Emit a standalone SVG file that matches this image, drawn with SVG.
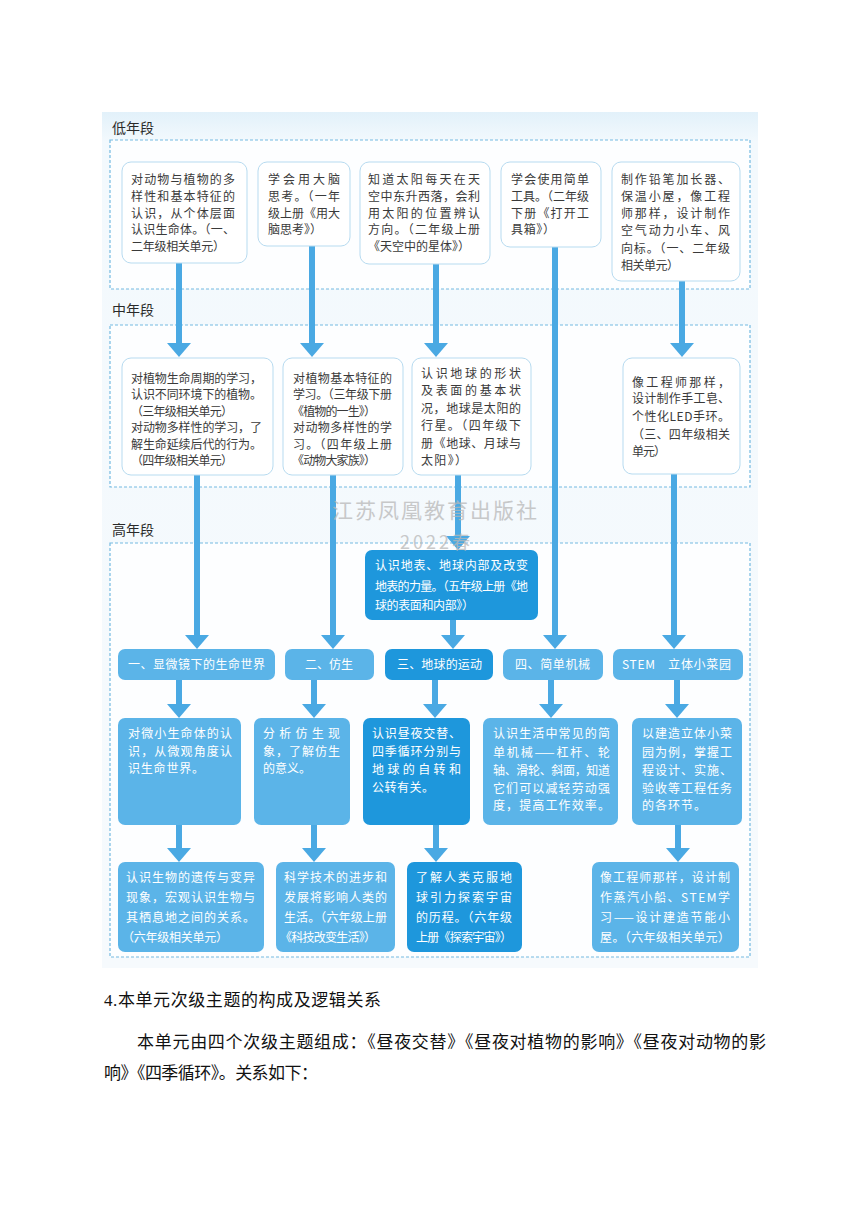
<svg xmlns="http://www.w3.org/2000/svg" width="860" height="1216" viewBox="0 0 860 1216">
<defs>
<linearGradient id="bg" x1="0" y1="0" x2="0" y2="1">
<stop offset="0" stop-color="#e2f1fa"/>
<stop offset="0.035" stop-color="#f3f9fd"/>
<stop offset="1" stop-color="#f6fafd"/>
</linearGradient>
<marker id="ah" markerUnits="userSpaceOnUse" markerWidth="14" markerHeight="24" viewBox="0 0 14 24" refX="0" refY="12" orient="auto"><path d="M0,0 L14,12 L0,24 z" fill="#4aa9e3"/></marker>
</defs>
<style>
.sec{fill:#fdfeff;stroke:#74b9e2;stroke-width:1.2;stroke-dasharray:3 2}
.lab{font-family:"Noto Sans CJK SC",sans-serif;font-size:14px;fill:#2a2a2a}
.wb{fill:#ffffff;stroke:#b7dbf0;stroke-width:1}
.mb{fill:#5bb4e8}
.db{fill:#1e97dc}
.t{font-family:"Noto Sans CJK SC",sans-serif;font-size:12px;fill:#3a3a3a}
.tw{font-family:"Noto Sans CJK SC",sans-serif;font-size:12px;fill:#ffffff}
.hd{font-family:"Noto Sans CJK SC",sans-serif;font-size:12px;fill:#ffffff}
.c{stroke:#4aa9e3;stroke-width:6;fill:none}
.wm{font-family:"Noto Sans CJK SC",sans-serif;fill:#b8b8b8;opacity:0.75}
.body{font-family:"Liberation Serif","Noto Sans CJK SC",serif;font-size:17px;fill:#111}
</style>

<rect x="102" y="112" width="656" height="856" fill="url(#bg)"/>

<g id="sections">
<rect class="sec" x="110" y="140" width="640" height="149"/>
<rect class="sec" x="110" y="325" width="640" height="162"/>
<rect class="sec" x="110" y="543" width="640" height="414"/>
<text class="lab" x="112" y="133">低年段</text>
<text class="lab" x="112" y="315">中年段</text>
<text class="lab" x="112" y="535">高年段</text>
</g>

<g id="connectors">
<line class="c" x1="179" y1="263" x2="179" y2="343" marker-end="url(#ah)"/>
<line class="c" x1="312" y1="246" x2="312" y2="343" marker-end="url(#ah)"/>
<line class="c" x1="436" y1="264" x2="436" y2="343" marker-end="url(#ah)"/>
<line class="c" x1="682" y1="281" x2="682" y2="343" marker-end="url(#ah)"/>
<line class="c" x1="555" y1="247" x2="555" y2="635" marker-end="url(#ah)"/>
<line class="c" x1="197" y1="475" x2="197" y2="635" marker-end="url(#ah)"/>
<line class="c" x1="333" y1="475" x2="333" y2="635" marker-end="url(#ah)"/>
<line class="c" x1="458" y1="475" x2="458" y2="536" marker-end="url(#ah)"/>
<line class="c" x1="674" y1="474" x2="674" y2="635" marker-end="url(#ah)"/>
<line class="c" x1="453" y1="620" x2="453" y2="635" marker-end="url(#ah)"/>
<line class="c" x1="179" y1="680" x2="179" y2="704" marker-end="url(#ah)"/>
<line class="c" x1="314" y1="680" x2="314" y2="704" marker-end="url(#ah)"/>
<line class="c" x1="435" y1="680" x2="435" y2="704" marker-end="url(#ah)"/>
<line class="c" x1="551" y1="680" x2="551" y2="704" marker-end="url(#ah)"/>
<line class="c" x1="677" y1="680" x2="677" y2="704" marker-end="url(#ah)"/>
<line class="c" x1="179" y1="825" x2="179" y2="848" marker-end="url(#ah)"/>
<line class="c" x1="314" y1="825" x2="314" y2="848" marker-end="url(#ah)"/>
<line class="c" x1="436" y1="825" x2="436" y2="848" marker-end="url(#ah)"/>
<line class="c" x1="678" y1="825" x2="678" y2="848" marker-end="url(#ah)"/>
</g>

<g id="low1">
<rect class="wb" x="122" y="162" width="125" height="101" rx="9"/>
<text class="t" x="131" y="184" textLength="104" lengthAdjust="spacing">对动物与植物的多</text>
<text class="t" x="131" y="201" textLength="104" lengthAdjust="spacing">样性和基本特征的</text>
<text class="t" x="131" y="218" textLength="104" lengthAdjust="spacing">认识，从个体层面</text>
<text class="t" x="131" y="234" textLength="104" lengthAdjust="spacing">认识生命体。（一、</text>
<text class="t" x="131" y="251" textLength="94" lengthAdjust="spacing">二年级相关单元）</text>
</g>
<g id="low2">
<rect class="wb" x="258" y="162" width="92" height="84" rx="9"/>
<text class="t" x="268" y="184" textLength="72" lengthAdjust="spacing">学会用大脑</text>
<text class="t" x="268" y="201" textLength="72" lengthAdjust="spacing">思考。（一年</text>
<text class="t" x="268" y="218" textLength="72" lengthAdjust="spacing">级上册《用大</text>
<text class="t" x="268" y="234" textLength="54" lengthAdjust="spacing">脑思考》）</text>
</g>
<g id="low3">
<rect class="wb" x="360" y="162" width="130" height="102" rx="9"/>
<text class="t" x="368" y="184" textLength="112" lengthAdjust="spacing">知道太阳每天在天</text>
<text class="t" x="368" y="201" textLength="112" lengthAdjust="spacing">空中东升西落，会利</text>
<text class="t" x="368" y="218" textLength="112" lengthAdjust="spacing">用太阳的位置辨认</text>
<text class="t" x="368" y="234" textLength="112" lengthAdjust="spacing">方向。（二年级上册</text>
<text class="t" x="368" y="251" textLength="102" lengthAdjust="spacing">《天空中的星体》）</text>
</g>
<g id="low4">
<rect class="wb" x="501" y="162" width="100" height="85" rx="9"/>
<text class="t" x="511" y="184" textLength="78" lengthAdjust="spacing">学会使用简单</text>
<text class="t" x="511" y="201" textLength="78" lengthAdjust="spacing">工具。（二年级</text>
<text class="t" x="511" y="218" textLength="78" lengthAdjust="spacing">下册《打开工</text>
<text class="t" x="511" y="234" textLength="44" lengthAdjust="spacing">具箱》）</text>
</g>
<g id="low5">
<rect class="wb" x="612" y="162" width="128" height="119" rx="9"/>
<text class="t" x="621" y="184" textLength="109" lengthAdjust="spacing">制作铅笔加长器、</text>
<text class="t" x="621" y="201" textLength="109" lengthAdjust="spacing">保温小屋，像工程</text>
<text class="t" x="621" y="218" textLength="109" lengthAdjust="spacing">师那样，设计制作</text>
<text class="t" x="621" y="235" textLength="109" lengthAdjust="spacing">空气动力小车、风</text>
<text class="t" x="621" y="253" textLength="109" lengthAdjust="spacing">向标。（一、二年级</text>
<text class="t" x="621" y="270" textLength="58" lengthAdjust="spacing">相关单元）</text>
</g>

<g id="mid1">
<rect class="wb" x="122" y="358" width="151" height="117" rx="9"/>
<text class="t" x="131" y="382.5" textLength="131" lengthAdjust="spacing">对植物生命周期的学习，</text>
<text class="t" x="131" y="399" textLength="131" lengthAdjust="spacing">认识不同环境下的植物。</text>
<text class="t" x="131" y="415.5" textLength="102" lengthAdjust="spacing">（三年级相关单元）</text>
<text class="t" x="131" y="432" textLength="131" lengthAdjust="spacing">对动物多样性的学习，了</text>
<text class="t" x="131" y="448.5" textLength="131" lengthAdjust="spacing">解生命延续后代的行为。</text>
<text class="t" x="131" y="465" textLength="102" lengthAdjust="spacing">（四年级相关单元）</text>
</g>
<g id="mid2">
<rect class="wb" x="283" y="358" width="120" height="117" rx="9"/>
<text class="t" x="293" y="382.5" textLength="99" lengthAdjust="spacing">对植物基本特征的</text>
<text class="t" x="293" y="399" textLength="99" lengthAdjust="spacing">学习。（三年级下册</text>
<text class="t" x="292" y="415.5" textLength="84" lengthAdjust="spacing">《植物的一生》）</text>
<text class="t" x="293" y="432" textLength="99" lengthAdjust="spacing">对动物多样性的学</text>
<text class="t" x="293" y="448.5" textLength="99" lengthAdjust="spacing">习。（四年级上册</text>
<text class="t" x="292" y="465" textLength="84" lengthAdjust="spacing">《动物大家族》）</text>
</g>
<g id="mid3">
<rect class="wb" x="412" y="358" width="119" height="117" rx="9"/>
<text class="t" x="421" y="377.5" textLength="100" lengthAdjust="spacing">认识地球的形状</text>
<text class="t" x="421" y="395" textLength="100" lengthAdjust="spacing">及表面的基本状</text>
<text class="t" x="421" y="412.5" textLength="100" lengthAdjust="spacing">况，地球是太阳的</text>
<text class="t" x="421" y="430" textLength="100" lengthAdjust="spacing">行星。（四年级下</text>
<text class="t" x="421" y="447.5" textLength="100" lengthAdjust="spacing">册《地球、月球与</text>
<text class="t" x="421" y="465" textLength="46" lengthAdjust="spacing">太阳》）</text>
</g>
<g id="mid4">
<rect class="wb" x="623" y="358" width="117" height="116" rx="9"/>
<text class="t" x="632" y="386.5" textLength="98" lengthAdjust="spacing">像工程师那样，</text>
<text class="t" x="632" y="403" textLength="98" lengthAdjust="spacing">设计制作手工皂、</text>
<text class="t" x="632" y="420.5" textLength="98" lengthAdjust="spacing">个性化LED手环。</text>
<text class="t" x="632" y="438.5" textLength="98" lengthAdjust="spacing">（三、四年级相关</text>
<text class="t" x="632" y="455.5" textLength="34" lengthAdjust="spacing">单元）</text>
</g>

<g id="earth-surface">
<rect class="db" x="365" y="550" width="173" height="70" rx="7"/>
<text class="tw" x="375" y="569.5" textLength="153" lengthAdjust="spacing">认识地表、地球内部及改变</text>
<text class="tw" x="375" y="591" textLength="153" lengthAdjust="spacing">地表的力量。（五年级上册《地</text>
<text class="tw" x="375" y="609.5" textLength="99" lengthAdjust="spacing">球的表面和内部》）</text>
</g>

<g id="head1">
<rect class="mb" x="118" y="649" width="157" height="31" rx="7"/>
<text class="hd" x="128" y="668.5" textLength="137" lengthAdjust="spacing">一、显微镜下的生命世界</text>
</g>
<g id="head2">
<rect class="mb" x="285" y="649" width="89" height="31" rx="7"/>
<text class="hd" x="305" y="668.5" textLength="48" lengthAdjust="spacing">二、仿生</text>
</g>
<g id="head3">
<rect class="db" x="385" y="649" width="108" height="31" rx="7"/>
<text class="hd" x="397" y="668.5" textLength="85" lengthAdjust="spacing">三、地球的运动</text>
</g>
<g id="head4">
<rect class="mb" x="503" y="649" width="100" height="31" rx="7"/>
<text class="hd" x="515" y="668.5" textLength="75" lengthAdjust="spacing">四、简单机械</text>
</g>
<g id="head5">
<rect class="mb" x="613" y="649" width="130" height="31" rx="7"/>
<text class="hd" x="622" y="668.5" textLength="109" lengthAdjust="spacing">STEM　立体小菜园</text>
</g>

<g id="det1">
<rect class="mb" x="118" y="718" width="123" height="107" rx="7"/>
<text class="tw" x="128" y="738" textLength="104" lengthAdjust="spacing">对微小生命体的认</text>
<text class="tw" x="128" y="756" textLength="104" lengthAdjust="spacing">识，从微观角度认</text>
<text class="tw" x="128" y="773" textLength="76" lengthAdjust="spacing">识生命世界。</text>
</g>
<g id="det2">
<rect class="mb" x="254" y="718" width="96" height="107" rx="7"/>
<text class="tw" x="263" y="738" textLength="77" lengthAdjust="spacing">分析仿生现</text>
<text class="tw" x="263" y="756" textLength="77" lengthAdjust="spacing">象，了解仿生</text>
<text class="tw" x="263" y="773" textLength="48" lengthAdjust="spacing">的意义。</text>
</g>
<g id="det3">
<rect class="db" x="363" y="718" width="107" height="107" rx="7"/>
<text class="tw" x="372" y="738" textLength="89" lengthAdjust="spacing">认识昼夜交替、</text>
<text class="tw" x="372" y="756" textLength="89" lengthAdjust="spacing">四季循环分别与</text>
<text class="tw" x="372" y="774" textLength="89" lengthAdjust="spacing">地球的自转和</text>
<text class="tw" x="372" y="792" textLength="62" lengthAdjust="spacing">公转有关。</text>
</g>
<g id="det4">
<rect class="mb" x="483" y="718" width="135" height="107" rx="7"/>
<text class="tw" x="493" y="737.5" textLength="117" lengthAdjust="spacing">认识生活中常见的简</text>
<text class="tw" x="493" y="756.5" textLength="117" lengthAdjust="spacing">单机械——杠杆、轮</text>
<text class="tw" x="493" y="774.5" textLength="117" lengthAdjust="spacing">轴、滑轮、斜面，知道</text>
<text class="tw" x="493" y="792.5" textLength="117" lengthAdjust="spacing">它们可以减轻劳动强</text>
<text class="tw" x="493" y="809.5" textLength="117" lengthAdjust="spacing">度，提高工作效率。</text>
</g>
<g id="det5">
<rect class="mb" x="632" y="718" width="110" height="107" rx="7"/>
<text class="tw" x="642" y="737.5" textLength="90" lengthAdjust="spacing">以建造立体小菜</text>
<text class="tw" x="642" y="756.5" textLength="90" lengthAdjust="spacing">园为例，掌握工</text>
<text class="tw" x="642" y="774.5" textLength="90" lengthAdjust="spacing">程设计、实施、</text>
<text class="tw" x="642" y="792.5" textLength="90" lengthAdjust="spacing">验收等工程任务</text>
<text class="tw" x="642" y="809.5" textLength="64" lengthAdjust="spacing">的各环节。</text>
</g>

<g id="bot1">
<rect class="mb" x="118" y="862" width="146" height="90" rx="7"/>
<text class="tw" x="126" y="881.5" textLength="129" lengthAdjust="spacing">认识生物的遗传与变异</text>
<text class="tw" x="126" y="901.5" textLength="129" lengthAdjust="spacing">现象，宏观认识生物与</text>
<text class="tw" x="126" y="922" textLength="129" lengthAdjust="spacing">其栖息地之间的关系。</text>
<text class="tw" x="122" y="941.5" textLength="106" lengthAdjust="spacing">（六年级相关单元）</text>
</g>
<g id="bot2">
<rect class="mb" x="276" y="862" width="119" height="90" rx="7"/>
<text class="tw" x="284" y="881.5" textLength="103" lengthAdjust="spacing">科学技术的进步和</text>
<text class="tw" x="284" y="901.5" textLength="103" lengthAdjust="spacing">发展将影响人类的</text>
<text class="tw" x="284" y="922" textLength="103" lengthAdjust="spacing">生活。（六年级上册</text>
<text class="tw" x="280" y="941.5" textLength="96" lengthAdjust="spacing">《科技改变生活》）</text>
</g>
<g id="bot3">
<rect class="db" x="407" y="862" width="115" height="90" rx="7"/>
<text class="tw" x="416" y="881.5" textLength="96" lengthAdjust="spacing">了解人类克服地</text>
<text class="tw" x="416" y="901.5" textLength="96" lengthAdjust="spacing">球引力探索宇宙</text>
<text class="tw" x="416" y="922" textLength="96" lengthAdjust="spacing">的历程。（六年级</text>
<text class="tw" x="416" y="941.5" textLength="96" lengthAdjust="spacing">上册《探索宇宙》）</text>
</g>
<g id="bot4">
<rect class="mb" x="592" y="862" width="147" height="90" rx="7"/>
<text class="tw" x="600" y="881.5" textLength="130" lengthAdjust="spacing">像工程师那样，设计制</text>
<text class="tw" x="600" y="901.5" textLength="130" lengthAdjust="spacing">作蒸汽小船、STEM学</text>
<text class="tw" x="600" y="921.5" textLength="130" lengthAdjust="spacing">习——设计建造节能小</text>
<text class="tw" x="600" y="941.5" textLength="130" lengthAdjust="spacing">屋。（六年级相关单元）</text>
</g>

<g id="watermark">
<text class="wm" x="332" y="518" font-size="21" textLength="205" lengthAdjust="spacing">江苏凤凰教育出版社</text>
<text class="wm" x="400" y="549" font-size="18" textLength="70" lengthAdjust="spacing">2022春</text>
</g>

<g id="body-text">
<text class="body" x="104" y="1006" textLength="277" lengthAdjust="spacing">4.本单元次级主题的构成及逻辑关系</text>
<text class="body" x="137" y="1048" textLength="629" lengthAdjust="spacing">本单元由四个次级主题组成：《昼夜交替》《昼夜对植物的影响》《昼夜对动物的影</text>
<text class="body" x="104" y="1079" textLength="214" lengthAdjust="spacing">响》《四季循环》。关系如下：</text>
</g>
</svg>
